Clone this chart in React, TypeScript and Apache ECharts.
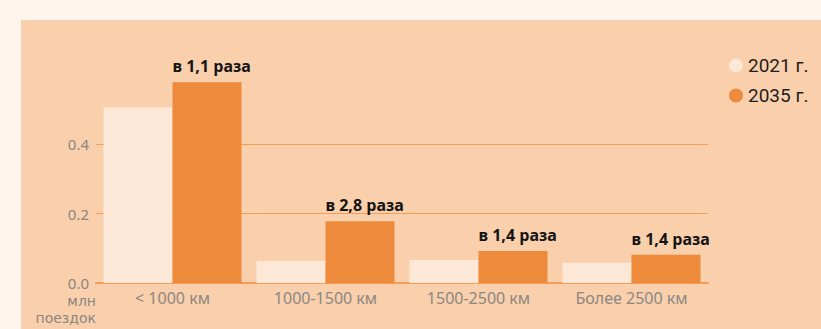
import React, { useEffect, useRef } from "react";
import * as echarts from "echarts";

const categories = ["< 1000 км", "1000-1500 км", "1500-2500 км", "Более 2500 км"];
const values2021 = [0.506, 0.063, 0.066, 0.058];
const values2035 = [0.578, 0.178, 0.092, 0.081];
const growthLabels = ["в 1,1 раза", "в 2,8 раза", "в 1,4 раза", "в 1,4 раза"];
const seriesNames = ["2021 г.", "2035 г."];
const unitLines = ["млн", "поездок"];

const FONT = "'Noto Sans', Roboto, sans-serif";
const GRID = "#f39d58";
const GREY = "#8c8782";

export default function App() {
  const ref = useRef<HTMLDivElement>(null);
  useEffect(() => {
    if (!ref.current) return;
    const chart = echarts.init(ref.current, null, { renderer: "svg" });
    chart.setOption({
      animation: false,
      backgroundColor: "transparent",
      textStyle: { fontFamily: FONT },
      grid: { left: 96, right: 113, top: 74.5, bottom: 46, containLabel: false },
      legend: {
        orient: "vertical",
        left: 724,
        top: 51,
        itemWidth: 14,
        itemHeight: 14,
        itemGap: 11,
        icon: "circle",
        textStyle: { fontSize: 19, color: "#1e1e1e", fontFamily: "Roboto, sans-serif" },
        data: seriesNames,
      },
      xAxis: {
        type: "category",
        data: categories,
        axisLine: { show: true, lineStyle: { color: GRID, width: 2 } },
        axisTick: { show: false },
        axisLabel: { color: GREY, fontSize: 16, margin: 7, fontFamily: FONT },
      },
      yAxis: {
        type: "value",
        min: 0,
        max: 0.6,
        interval: 0.2,
        axisLine: { show: false },
        axisTick: { show: false },
        axisLabel: {
          color: GREY,
          fontSize: 15,
          margin: 7,
          lineHeight: 10,
          fontFamily: FONT,
          showMaxLabel: false,
          padding: [0, 0, 8, 0],
          formatter: (v: number) => v.toFixed(1),
        },
        splitLine: { show: true, showMaxLine: false, lineStyle: { color: GRID, width: 1 } },
      },
      series: [
        {
          name: seriesNames[0],
          type: "bar",
          data: values2021,
          barWidth: 69,
          barGap: "0%",
          itemStyle: { color: "#fde7d6" },
        },
        {
          name: seriesNames[1],
          type: "bar",
          data: values2035,
          barWidth: 69,
          itemStyle: { color: "#ee8a3b" },
          label: {
            show: true,
            position: [0, -8],
            align: "left",
            verticalAlign: "bottom",
            fontSize: 16,
            fontWeight: "bold",
            color: "#141414",
            fontFamily: FONT,
            formatter: (p: any) => growthLabels[p.dataIndex],
          },
        },
      ],
      graphic: unitLines.map((t, i) => ({
        type: "text",
        x: 96,
        y: 301 + i * 16.5,
        style: {
          text: t,
          fill: GREY,
          fontSize: 14,
          lineHeight: 14,
          align: "right",
          verticalAlign: "middle",
          fontFamily: "'DejaVu Sans', sans-serif",
        },
      })),
    });
    return () => chart.dispose();
  }, []);
  return (
    <div style={{ position: "fixed", left: 0, top: 0, width: 821, height: 329, background: "#fef5ef" }}>
      <div style={{ position: "absolute", left: 21, top: 20, right: 0, bottom: 0, background: "#f9cfac" }} />
      <div ref={ref} style={{ position: "absolute", left: 0, top: 0, width: 821, height: 329 }} />
    </div>
  );
}
